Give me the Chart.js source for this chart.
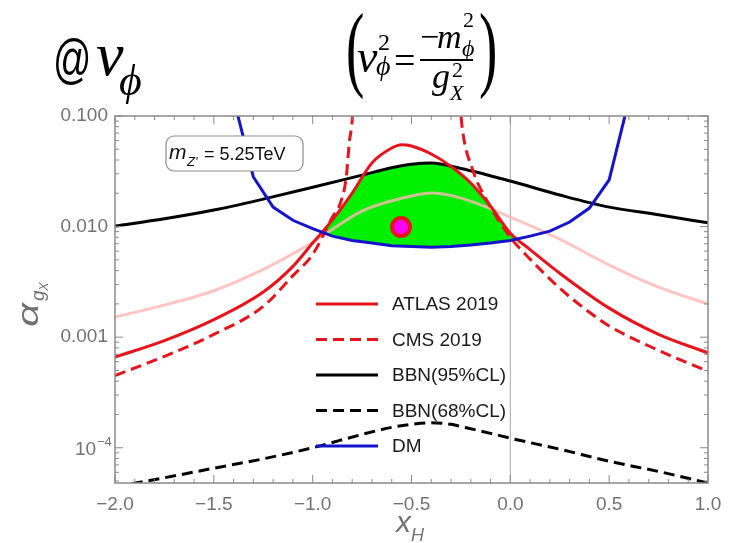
<!DOCTYPE html>
<html>
<head>
<meta charset="utf-8">
<script src="https://cdn.jsdelivr.net/npm/chart.js@4.4.1/dist/chart.umd.min.js"></script>
<style>
  html, body { margin: 0; padding: 0; background: #fff; }
  #wrap { width: 741px; height: 543px; }
</style>
</head>
<body>
<div id="wrap"><canvas id="limitChart" width="741" height="543"></canvas></div>
<script>
// axis ticks
const xTickValues = [-2, -1.5, -1, -0.5, 0, 0.5, 1];
const yTickValues = [1e-4, 1e-3, 1e-2, 1e-1];
const yTickLabels = ['10', '0.001', '0.010', '0.100'];
const yTickExponents = ['−4', '', '', ''];

// ATLAS 2019
const atlasX = [-2, -1.75, -1.5, -1.25, -1.1, -1.0, -0.9, -0.8, -0.7, -0.6, -0.55, -0.5, -0.4, -0.3, -0.2, -0.1, 0, 0.1, 0.25, 0.5, 0.75, 1.0];
const atlasY = [0.00066, 0.00093, 0.00144, 0.00256, 0.00437, 0.0071, 0.0115, 0.0201, 0.0376, 0.0513, 0.0550, 0.0535, 0.0453, 0.0350, 0.0248, 0.0153, 0.0087, 0.0062, 0.00379, 0.00183, 0.00106, 0.00072];

// light ATLAS curve
const lightX = [-2, -1.75, -1.5, -1.25, -1.0, -0.75, -0.5, -0.4, -0.25, 0, 0.25, 0.5, 0.75, 1.0];
const lightY = [0.00152, 0.00195, 0.00263, 0.0041, 0.0072, 0.0138, 0.0189, 0.0201, 0.0181, 0.0122, 0.0077, 0.00449, 0.00284, 0.0020];

// CMS 2019, two branches
const cmsLeftX = [-2, -1.75, -1.5, -1.25, -1.1, -1.0, -0.9, -0.86, -0.83, -0.815, -0.8, -0.79];
const cmsLeftY = [0.00045, 0.00067, 0.00106, 0.0019, 0.0036, 0.0056, 0.0122, 0.0163, 0.028, 0.057, 0.092, 0.2];
const cmsRightX = [-0.262, -0.245, -0.19, -0.12, 0, 0.1, 0.25, 0.4, 0.5, 0.75, 1.0];
const cmsRightY = [0.2, 0.083, 0.0324, 0.0174, 0.0080, 0.00508, 0.00277, 0.00168, 0.00126, 0.00076, 0.00049];

// BBN
const bbn95X = [-2, -1.75, -1.5, -1.25, -1.0, -0.75, -0.6, -0.5, -0.4, -0.25, 0, 0.25, 0.5, 0.75, 1.0];
const bbn95Y = [0.0101, 0.01175, 0.0141, 0.0177, 0.02265, 0.0292, 0.0340, 0.0366, 0.0375, 0.0335, 0.0258, 0.0193, 0.0150, 0.0128, 0.0108];
const bbn68X = [-2, -1.75, -1.5, -1.25, -1.0, -0.75, -0.6, -0.5, -0.4, -0.3, -0.25, -0.1, 0, 0.25, 0.5, 0.75, 1.0];
const bbn68Y = [4.45e-5, 5.35e-5, 6.53e-5, 7.94e-5, 1.0e-4, 1.32e-4, 1.53e-4, 1.63e-4, 1.68e-4, 1.63e-4, 1.556e-4, 1.35e-4, 1.22e-4, 9.7e-5, 7.55e-5, 6.1e-5, 4.8e-5];

// DM relic
const dmX = [-1.4, -1.3, -1.2, -1.1, -1.0, -0.9, -0.8, -0.7, -0.6, -0.5, -0.4, -0.3, -0.2, -0.1, 0, 0.1, 0.2, 0.3, 0.4, 0.5, 0.6];
const dmY = [0.143, 0.0281, 0.0150, 0.0114, 0.0096, 0.0082, 0.0075, 0.0071, 0.0067, 0.0066, 0.0065, 0.0066, 0.0068, 0.0071, 0.0075, 0.0082, 0.0091, 0.0110, 0.0147, 0.0264, 0.14];

// benchmark point
const pointX = [-0.553];
const pointY = [0.0099];

const legendLabels = ['ATLAS 2019', 'CMS 2019', 'BBN(95%CL)', 'BBN(68%CL)', 'DM'];

const RED = '#e8141c';
const BLUE = '#1414cc';
const GREEN = '#00f000';
const PINK = 'rgba(255, 182, 182, 0.8)';
const AXIS_GRAY = '#737373';
const SANS = '"Liberation Sans", Arial, sans-serif';
const SERIF = '"Liberation Serif", "DejaVu Serif", serif';

const toXY = (xs, ys) => xs.map((x, i) => ({ x: x, y: ys[i] }));

const cmsData = toXY(cmsLeftX, cmsLeftY).concat([{ x: -0.5, y: null }], toXY(cmsRightX, cmsRightY));

const curve = (label, data, color, extra) => Object.assign({
  label: label,
  data: data,
  borderColor: color,
  backgroundColor: color,
  borderWidth: 3,
  pointRadius: 0,
  fill: false,
  cubicInterpolationMode: 'monotone',
  spanGaps: false
}, extra || {});

const datasets = [
  Object.assign(curve('benchmark', toXY(pointX, pointY), RED), {
    showLine: false, pointRadius: 9, borderWidth: 4, pointBackgroundColor: '#ff00ff', pointBorderColor: RED, order: 0
  }),
  curve('DM', toXY(dmX, dmY), BLUE, { cubicInterpolationMode: 'default', tension: 0, order: 1 }),
  curve('ATLAS 2019', toXY(atlasX, atlasY), RED, { order: 2 }),
  curve('CMS 2019', cmsData, RED, { borderDash: [11, 6], order: 3 }),
  curve('BBN(68%CL)', toXY(bbn68X, bbn68Y), '#000', { borderDash: [11, 6], order: 4 }),
  curve('BBN(95%CL)', toXY(bbn95X, bbn95Y), '#000', { order: 5 }),
  curve('ATLAS 2019 (light)', toXY(lightX, lightY), PINK, { order: 6 })
];

function lineEl(chart, label) {
  const i = chart.data.datasets.findIndex(d => d.label === label);
  const el = chart.getDatasetMeta(i).dataset;
  el.updateControlPoints(chart.chartArea, 'x');
  return el;
}

// green region: above DM, below both ATLAS and BBN(95%CL)
const allowedRegion = {
  id: 'allowedRegion',
  beforeDatasetsDraw(chart) {
    const { ctx, chartArea: a } = chart;
    const x0 = chart.scales.x.getPixelForValue(0);
    ctx.save();
    ctx.strokeStyle = '#a8a8a8';
    ctx.lineWidth = 1;
    ctx.beginPath();
    ctx.moveTo(x0, a.top);
    ctx.lineTo(x0, a.bottom);
    ctx.stroke();

    ctx.beginPath();
    ctx.rect(a.left, a.top, a.width, a.height);
    ctx.clip();
    const clipBelow = el => {
      const p = el.points;
      ctx.beginPath();
      el.path(ctx);
      ctx.lineTo(p[p.length - 1].x, a.bottom + 100);
      ctx.lineTo(p[0].x, a.bottom + 100);
      ctx.closePath();
      ctx.clip();
    };
    clipBelow(lineEl(chart, 'ATLAS 2019'));
    clipBelow(lineEl(chart, 'BBN(95%CL)'));
    const dm = lineEl(chart, 'DM');
    const p = dm.points;
    ctx.beginPath();
    dm.path(ctx);
    ctx.lineTo(p[p.length - 1].x, a.top - 300);
    ctx.lineTo(p[0].x, a.top - 300);
    ctx.closePath();
    ctx.fillStyle = GREEN;
    ctx.fill();
    ctx.restore();
  }
};

// legend rows and mass label inside the plot
const insetLegend = {
  id: 'insetLegend',
  afterDatasetsDraw(chart) {
    const ctx = chart.ctx;
    ctx.save();
    legendLabels.forEach((label, i) => {
      const ds = chart.data.datasets.find(d => d.label === label);
      const y = 304 + i * 35.5;
      ctx.strokeStyle = ds.borderColor;
      ctx.lineWidth = 3;
      ctx.setLineDash(ds.borderDash || []);
      ctx.beginPath();
      ctx.moveTo(316, y);
      ctx.lineTo(378, y);
      ctx.stroke();
      ctx.setLineDash([]);
      ctx.fillStyle = '#1a1a1a';
      ctx.font = '19px ' + SANS;
      ctx.textBaseline = 'middle';
      ctx.textAlign = 'left';
      ctx.fillText(label, 392, y + 1);
    });

    // m_Z' box
    const bx = 166, by = 136, bw = 137, bh = 35, r = 8;
    ctx.beginPath();
    ctx.moveTo(bx + r, by);
    ctx.arcTo(bx + bw, by, bx + bw, by + bh, r);
    ctx.arcTo(bx + bw, by + bh, bx, by + bh, r);
    ctx.arcTo(bx, by + bh, bx, by, r);
    ctx.arcTo(bx, by, bx + bw, by, r);
    ctx.closePath();
    ctx.fillStyle = '#fff';
    ctx.fill();
    ctx.strokeStyle = '#8c8c8c';
    ctx.lineWidth = 1.2;
    ctx.stroke();
    ctx.fillStyle = '#111';
    ctx.textBaseline = 'alphabetic';
    ctx.font = 'italic 21px ' + SANS;
    ctx.fillText('m', 169, 159);
    ctx.font = 'italic 13px ' + SANS;
    ctx.fillText("Z'", 187, 166);
    ctx.font = '18px ' + SANS;
    ctx.fillText('= 5.25TeV', 204, 160);
    ctx.restore();
  }
};

function stretched(ctx, text, x, y, font, sx, sy) {
  ctx.save();
  ctx.translate(x, y);
  ctx.scale(sx, sy);
  ctx.font = font;
  ctx.fillText(text, 0, 0);
  ctx.restore();
}

// frame with inward ticks, axis titles and headings
const frameAndTitles = {
  id: 'frameAndTitles',
  afterDraw(chart) {
    const { ctx, chartArea: a, scales: { x, y } } = chart;
    ctx.save();
    ctx.strokeStyle = '#8a8a8a';
    ctx.lineWidth = 1.5;
    ctx.strokeRect(a.left, a.top, a.width, a.height);
    ctx.lineWidth = 1;
    ctx.beginPath();
    for (let k = -20; k <= 10; k++) {
      const px = x.getPixelForValue(k / 10);
      const len = k % 5 === 0 ? 8 : 4;
      ctx.moveTo(px, a.bottom); ctx.lineTo(px, a.bottom - len);
      ctx.moveTo(px, a.top); ctx.lineTo(px, a.top + len);
    }
    for (let d = -5; d <= -1; d++) {
      for (let m = 1; m <= 9; m++) {
        const v = m * Math.pow(10, d);
        if (v < y.min || v > y.max) continue;
        const py = y.getPixelForValue(v);
        const len = m === 1 ? 8 : 4;
        ctx.moveTo(a.left, py); ctx.lineTo(a.left + len, py);
        ctx.moveTo(a.right, py); ctx.lineTo(a.right - len, py);
      }
    }
    ctx.stroke();

    // exponent part of the power-of-ten labels
    ctx.fillStyle = AXIS_GRAY;
    ctx.textBaseline = 'alphabetic';
    ctx.textAlign = 'left';
    yTickValues.forEach((v, i) => {
      if (!yTickExponents[i]) return;
      const py = y.getPixelForValue(v);
      ctx.font = '19px ' + SANS;
      ctx.fillText(yTickLabels[i], 75, py + 7);
      ctx.font = '13px ' + SANS;
      ctx.fillText(yTickExponents[i], 97, py - 2);
    });

    // y title: alpha_{g_X}
    ctx.save();
    ctx.translate(38, 327);
    ctx.rotate(-Math.PI / 2);
    stretched(ctx, 'α', 0, 0, 'italic 30px ' + SANS, 1.4, 1);
    ctx.font = 'italic 19px ' + SANS;
    ctx.fillText('g', 26, 6);
    ctx.font = 'italic 13px ' + SANS;
    ctx.fillText('X', 36, 10);
    ctx.restore();

    // x title: x_H
    ctx.font = 'italic 30px ' + SANS;
    ctx.fillText('x', 396, 532);
    ctx.font = 'italic 18px ' + SANS;
    ctx.fillText('H', 411, 541);

    // heading "@ v_phi"
    ctx.fillStyle = '#000';
    stretched(ctx, '@', 53, 77, '54px ' + SANS, 0.7, 1);
    ctx.font = 'italic 62px ' + SERIF;
    ctx.fillText('v', 96, 75);
    ctx.font = 'italic 44px ' + SERIF;
    ctx.fillText('ϕ', 119, 95);

    // relation v_phi^2 = -m_phi^2 / g_X^2
    stretched(ctx, '(', 346, 78.5, '55px ' + SERIF, 1, 1.75);
    stretched(ctx, ')', 479, 78.5, '55px ' + SERIF, 1, 1.75);
    ctx.font = 'italic 46px ' + SERIF;
    ctx.fillText('v', 357, 72);
    ctx.font = '24px ' + SERIF;
    ctx.fillText('2', 378, 50);
    ctx.font = 'italic 28px ' + SERIF;
    ctx.fillText('ϕ', 376, 75);
    ctx.font = '38px ' + SERIF;
    ctx.fillText('=', 394, 73);
    ctx.font = '34px ' + SERIF;
    ctx.fillText('−', 420, 48);
    ctx.font = 'italic 34px ' + SERIF;
    ctx.fillText('m', 437, 48);
    ctx.font = '22px ' + SERIF;
    ctx.fillText('2', 463, 27);
    ctx.font = 'italic 24px ' + SERIF;
    ctx.fillText('ϕ', 462, 56);
    ctx.fillRect(420, 59, 53, 2);
    ctx.font = 'italic 36px ' + SERIF;
    ctx.fillText('g', 432, 88);
    ctx.font = '22px ' + SERIF;
    ctx.fillText('2', 452, 77);
    ctx.font = 'italic 22px ' + SERIF;
    ctx.fillText('X', 450, 100);
    ctx.restore();
  }
};

new Chart(document.getElementById('limitChart').getContext('2d'), {
  type: 'line',
  data: { datasets: datasets },
  options: {
    responsive: false,
    animation: false,
    layout: { padding: { left: 35, right: 33, top: 116, bottom: 15 } },
    plugins: {
      legend: { display: false },
      tooltip: { enabled: false },
      title: { display: false }
    },
    scales: {
      x: {
        type: 'linear',
        min: -2,
        max: 1,
        afterBuildTicks: s => { s.ticks = xTickValues.map(v => ({ value: v })); },
        afterFit: s => { s.height = 45; },
        grid: { display: false, drawTicks: false },
        border: { display: false },
        ticks: {
          color: AXIS_GRAY,
          font: { family: SANS, size: 19 },
          padding: 10,
          maxRotation: 0,
          autoSkip: false,
          callback: v => v.toFixed(1).replace('-', '−')
        }
      },
      y: {
        type: 'logarithmic',
        min: 4.8e-5,
        max: 0.1,
        afterBuildTicks: s => { s.ticks = yTickValues.map(v => ({ value: v })); },
        afterFit: s => { s.width = 80; },
        grid: { display: false, drawTicks: false },
        border: { display: false },
        ticks: {
          color: AXIS_GRAY,
          font: { family: SANS, size: 19 },
          padding: 7,
          autoSkip: false,
          callback: v => {
            const i = yTickValues.findIndex(t => Math.abs(Math.log10(t) - Math.log10(v)) < 1e-6);
            return i >= 0 && !yTickExponents[i] ? yTickLabels[i] : '';
          }
        }
      }
    }
  },
  plugins: [allowedRegion, insetLegend, frameAndTitles]
});
</script>
</body>
</html>
